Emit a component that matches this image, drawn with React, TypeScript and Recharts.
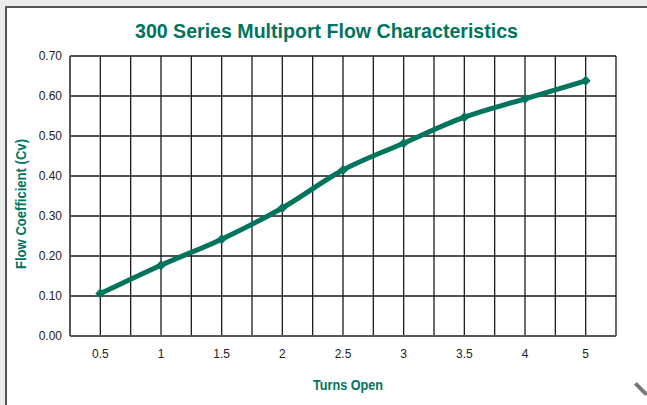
import { LineChart, Line, XAxis, YAxis, CartesianGrid } from "recharts";

const turns = ["0.5", "1", "1.5", "2", "2.5", "3", "3.5", "4", "5"];
const cv = [0.106, 0.177, 0.242, 0.32, 0.415, 0.482, 0.547, 0.593, 0.638];
const yTicks = [0, 0.1, 0.2, 0.3, 0.4, 0.5, 0.6, 0.7];
// each category sits in the middle of its band; grid runs on band edges and centres
const tickPos = turns.map((_, i) => i + 0.5);
const gridPos = Array.from({ length: turns.length * 2 + 1 }, (_, i) => i / 2);

const data = turns.map((t, i) => ({ turn: t, pos: tickPos[i], cv: cv[i] }));

const GREEN = "#00745c";
const sans = "Liberation Sans, Arial, sans-serif";

function Diamond(props: any) {
  const { cx, cy } = props;
  if (cx == null || cy == null) return null;
  const r = 5;
  return (
    <polygon
      points={`${cx},${cy - r} ${cx + r},${cy} ${cx},${cy + r} ${cx - r},${cy}`}
      fill={GREEN}
    />
  );
}

export default function App() {
  return (
    <div
      style={{
        position: "fixed",
        left: 0,
        top: 0,
        width: 647,
        height: 405,
        background: "#ececec",
        overflow: "hidden",
      }}
    >
      <div
        style={{
          position: "absolute",
          left: 5,
          top: 6,
          width: 700,
          height: 500,
          background: "#fff",
          borderLeft: "2px solid #555",
          borderTop: "2px solid #555",
        }}
      />
      <div style={{ position: "absolute", left: 0, top: 0 }}>
        <LineChart
          width={647}
          height={405}
          data={data}
          margin={{ top: 56, right: 31, bottom: 39, left: 0 }}
        >
          <XAxis xAxisId="grid" type="number" dataKey="pos" domain={[0, 9]} ticks={gridPos} hide />
          <CartesianGrid xAxisId="grid" stroke="#1a1a1a" strokeWidth={1.3} />
          <XAxis
            type="number"
            dataKey="pos"
            domain={[0, 9]}
            ticks={tickPos}
            tickFormatter={(v: number) => turns[Math.floor(v)]}
            interval={0}
            height={30}
            axisLine={{ stroke: "#555", strokeWidth: 2 }}
            tickLine={false}
            tickMargin={7}
            tick={{ fontSize: 12, fill: "#222", fontFamily: sans }}
          />
          <YAxis
            domain={[0, 0.7]}
            ticks={yTicks}
            interval={0}
            width={70}
            tickFormatter={(v: number) => v.toFixed(2)}
            axisLine={{ stroke: "#555", strokeWidth: 2 }}
            tickLine={false}
            tickMargin={2}
            tick={{ fontSize: 12, fill: "#222", fontFamily: sans }}
          />
          <Line
            type="monotone"
            dataKey="cv"
            stroke={GREEN}
            strokeWidth={5}
            dot={<Diamond />}
            activeDot={false}
            isAnimationActive={false}
          />
        </LineChart>
      </div>
      <svg
        width={647}
        height={405}
        style={{ position: "absolute", left: 0, top: 0, pointerEvents: "none" }}
      >
        <text
          x={135}
          y={38}
          textLength={383}
          lengthAdjust="spacingAndGlyphs"
          fontFamily={sans}
          fontWeight="bold"
          fontSize={21}
          fill={GREEN}
        >
          300 Series Multiport Flow Characteristics
        </text>
        <text
          x={313}
          y={390}
          textLength={70}
          lengthAdjust="spacingAndGlyphs"
          fontFamily={sans}
          fontWeight="bold"
          fontSize={15}
          fill={GREEN}
        >
          Turns Open
        </text>
        <text
          x={0}
          y={0}
          transform="translate(26,269) rotate(-90)"
          textLength={130}
          lengthAdjust="spacingAndGlyphs"
          fontFamily={sans}
          fontWeight="bold"
          fontSize={15}
          fill={GREEN}
        >
          Flow Coefficient (Cv)
        </text>
      </svg>
      <div
        style={{
          position: "absolute",
          left: 633,
          top: 387,
          width: 16,
          height: 4,
          background: "#777",
          transform: "rotate(45deg)",
        }}
      />
    </div>
  );
}
